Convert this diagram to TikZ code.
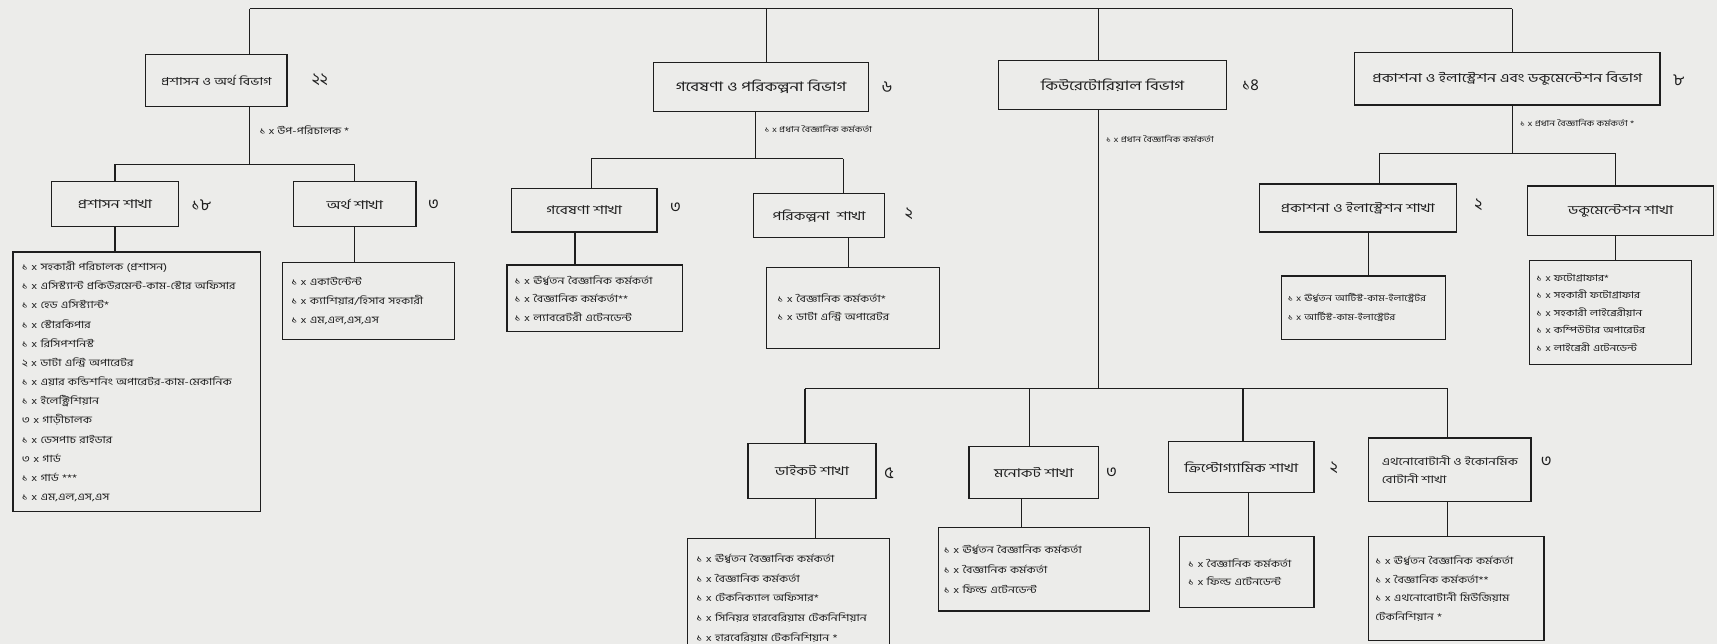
\documentclass[tikz,border=0pt]{standalone}
\usepackage{fontspec}
\setmainfont[Script=Bengali]{Hind Siliguri}
\newfontfamily\bnw[Script=Bengali,FakeStretch=1.3]{Hind Siliguri}
\newfontfamily\bnl[Script=Bengali,FakeStretch=1.25]{Hind Siliguri}
\definecolor{paper}{RGB}{236,236,234}
\definecolor{ink}{RGB}{30,30,30}
\tikzset{
  ln/.style={draw=ink, line width=1.2pt},
  bx/.style={draw=ink, line width=1.2pt, inner sep=0pt, align=center, text=ink, font=\bnw\fontsize{11}{14}\selectfont},
  bxb/.style={bx, font=\bnw\fontsize{12}{15}\selectfont},
  lst/.style args={#1/#2}{draw=ink, line width=1.2pt, inner sep=0pt, align=left, text=ink, font=\bnl\fontsize{#1}{#2}\selectfont},
  num/.style={text=ink, font=\fontsize{15}{18}\selectfont},
  lbl/.style={anchor=west, inner sep=0pt, text=ink, font=\bnl\fontsize{7.5}{9}\selectfont},
}
\begin{document}
\begin{tikzpicture}[x=1pt,y=-1pt]
\fill[paper] (0,0) rectangle (1568,588);
\useasboundingbox (0,0) rectangle (1568,588);

% ---------- level 1 ----------
\node[bxb, minimum width=129pt, minimum height=47pt, font=\bnw\fontsize{10}{13}\selectfont] (A) at (197.5,73.5) {প্রশাসন ও অর্থ বিভাগ};
\node[bxb, minimum width=196pt, minimum height=45pt] (B) at (695,79.5) {গবেষণা ও পরিকল্পনা বিভাগ};
\node[bxb, minimum width=208pt, minimum height=45pt] (C) at (1016,77.5) {কিউরেটোরিয়াল বিভাগ};
\node[bxb, minimum width=279pt, minimum height=48pt, font=\bnw\fontsize{11.2}{14}\selectfont] (D) at (1376.5,72) {প্রকাশনা ও ইলাস্ট্রেশন এবং ডকুমেন্টেশন বিভাগ};
\node[num] (nA) at (292,73) {২২};
\node[num] (nB) at (810,80) {৬};
\node[num] (nC) at (1142,78) {১৪};
\node[num] (nD) at (1533,73) {৮};

% ---------- A branch ----------
\node[bx, minimum width=116pt, minimum height=41pt] (PA) at (105,186.5) {প্রশাসন শাখা};
\node[bx, minimum width=112pt, minimum height=41pt] (PF) at (324,186.5) {অর্থ শাখা};
\node[num] (nPA) at (184,187) {১৮};
\node[num] (nPF) at (396,187) {৩};
\node[lst=9/17.5pt, minimum width=226pt, minimum height=237pt, text width=210pt] (LA) at (125,348.5) {%
১ x সহকারী পরিচালক (প্রশাসন)\\
১ x এসিস্ট্যান্ট প্রকিউরমেন্ট-কাম-স্টোর অফিসার\\
১ x হেড এসিস্ট্যান্ট*\\
১ x স্টোরকিপার\\
১ x রিসিপশনিস্ট\\
২ x ডাটা এন্ট্রি অপারেটর\\
১ x এয়ার কন্ডিশনিং অপারেটর-কাম-মেকানিক\\
১ x ইলেক্ট্রিশিয়ান\\
৩ x গাড়ীচালক\\
১ x ডেসপাচ রাইডার\\
৩ x গার্ড\\
১ x গার্ড ***\\
১ x এম,এল,এস,এস};
\node[lst=9/17pt, minimum width=157pt, minimum height=70pt, text width=141pt] (LF) at (336.5,275) {%
১ x একাউন্টেন্ট\\
১ x ক্যাশিয়ার/হিসাব সহকারী\\
১ x এম,এল,এস,এস};

% ---------- B branch ----------
\node[bx, minimum width=133pt, minimum height=40pt] (BR) at (533.5,192) {গবেষণা শাখা};
\node[bx, minimum width=120pt, minimum height=40pt] (BP) at (748,197) {পরিকল্পনা\ \ শাখা};
\node[num] (nBR) at (617,190) {৩};
\node[num] (nBP) at (830,195) {২};
\node[lst=9/17pt, minimum width=160pt, minimum height=61pt, text width=146pt] (LBR) at (543,272.5) {%
১ x ঊর্ধ্বতন বৈজ্ঞানিক কর্মকর্তা\\
১ x বৈজ্ঞানিক কর্মকর্তা**\\
১ x ল্যাবরেটরী এটেনডেন্ট};
\node[lst=9/17pt, minimum width=158pt, minimum height=74pt, text width=138pt] (LBP) at (779,281) {%
১ x বৈজ্ঞানিক কর্মকর্তা*\\
১ x ডাটা এন্ট্রি অপারেটর};

% ---------- C branch ----------
\node[bx, minimum width=117pt, minimum height=50pt] (CD) at (741.5,430) {ডাইকট শাখা};
\node[bx, minimum width=118pt, minimum height=47pt] (CM) at (944,431.5) {মনোকট শাখা};
\node[bx, minimum width=133pt, minimum height=47pt] (CC) at (1133.5,426.5) {ক্রিপ্টোগ্যামিক শাখা};
\node[bx, minimum width=148pt, minimum height=58pt, align=left, font=\bnw\fontsize{9.5}{16}\selectfont] (CE) at (1324,429) {এথনোবোটানী ও ইকোনমিক\\বোটানী শাখা};
\node[num] (nCD) at (812,432) {৫};
\node[num] (nCM) at (1015,432) {৩};
\node[num] (nCC) at (1218,427) {২};
\node[num] (nCE) at (1412,422) {৩};
\node[lst=9/18pt, minimum width=184pt, minimum height=108pt, text width=168pt] (LCD) at (720,546) {%
১ x ঊর্ধ্বতন বৈজ্ঞানিক কর্মকর্তা\\
১ x বৈজ্ঞানিক কর্মকর্তা\\
১ x টেকনিক্যাল অফিসার*\\
১ x সিনিয়র হারবেরিয়াম টেকনিশিয়ান\\
১ x হারবেরিয়াম টেকনিশিয়ান *};
\node[lst=9/18pt, minimum width=193pt, minimum height=76pt, text width=183pt] (LCM) at (953.5,520) {%
১ x ঊর্ধ্বতন বৈজ্ঞানিক কর্মকর্তা\\
১ x বৈজ্ঞানিক কর্মকর্তা\\
১ x ফিল্ড এটেনডেন্ট};
\node[lst=9/17pt, minimum width=123pt, minimum height=65pt, text width=107pt] (LCC) at (1138.5,522.5) {%
১ x বৈজ্ঞানিক কর্মকর্তা\\
১ x ফিল্ড এটেনডেন্ট};
\node[lst=9/17pt, minimum width=160pt, minimum height=95pt, text width=148pt] (LCE) at (1330,537.5) {%
১ x ঊর্ধ্বতন বৈজ্ঞানিক কর্মকর্তা\\
১ x বৈজ্ঞানিক কর্মকর্তা**\\
১ x এথনোবোটানী মিউজিয়াম\\
টেকনিশিয়ান *};

% ---------- D branch ----------
\node[bx, minimum width=180pt, minimum height=44pt] (DP) at (1240,190) {প্রকাশনা ও ইলাস্ট্রেশন শাখা};
\node[bx, minimum width=170pt, minimum height=45pt] (DD) at (1480,192.5) {ডকুমেন্টেশন শাখা};
\node[num] (nDP) at (1350,187) {২};
\node[lst=8/17pt, minimum width=150pt, minimum height=58pt, text width=138pt] (LDP) at (1245,281) {%
১ x ঊর্ধ্বতন আর্টিস্ট-কাম-ইলাস্ট্রেটর\\
১ x আর্টিস্ট-কাম-ইলাস্ট্রেটর};
\node[lst=8.5/16pt, minimum width=148pt, minimum height=95pt, text width=136pt] (LDD) at (1471,285.5) {%
১ x ফটোগ্রাফার*\\
১ x সহকারী ফটোগ্রাফার\\
১ x সহকারী লাইব্রেরীয়ান\\
১ x কম্পিউটার অপারেটর\\
১ x লাইব্রেরী এটেনডেন্ট};

% ---------- connector labels ----------
\node[lbl, font=\bnl\fontsize{9}{10}\selectfont] (tA) at (237,119) {১ x উপ-পরিচালক *};
\node[lbl] (tB) at (698,118) {১ x প্রধান বৈজ্ঞানিক কর্মকর্তা};
\node[lbl] (tC) at (1010,127) {১ x প্রধান বৈজ্ঞানিক কর্মকর্তা};
\node[lbl] (tD) at (1388,112) {১ x প্রধান বৈজ্ঞানিক কর্মকর্তা *};

% ---------- junction coordinates ----------
\coordinate (t0) at (228,8);
\coordinate (tBx) at (700,8);
\coordinate (tCx) at (1003,8);
\coordinate (t1) at (1381,8);
\coordinate (jA) at (228,150);
\coordinate (jAl) at (105,150);
\coordinate (jAr) at (324,150);
\coordinate (jB) at (690,145);
\coordinate (jBl) at (540,145);
\coordinate (jBr) at (770,145);
\coordinate (jC) at (1003,355);
\coordinate (jC1) at (735,355);
\coordinate (jC2) at (940,355);
\coordinate (jC3) at (1135,355);
\coordinate (jC4) at (1322,355);
\coordinate (jD) at (1381,140);
\coordinate (jDl) at (1260,140);
\coordinate (jDr) at (1475,140);

% ---------- connectors ----------
\draw[ln] (t0) -- (t1);
\draw[ln] (t0) -- (t0 |- A.north);
\draw[ln] (tBx) -- (tBx |- B.north);
\draw[ln] (tCx) -- (tCx |- C.north);
\draw[ln] (t1) -- (t1 |- D.north);

\draw[ln] (jA |- A.south) -- (jA);
\draw[ln] (jAl) -- (jAr);
\draw[ln] (jAl) -- (jAl |- PA.north);
\draw[ln] (jAr) -- (jAr |- PF.north);
\draw[ln] (PA.south) -- (LA.north -| PA.south);
\draw[ln] (PF.south) -- (LF.north -| PF.south);

\draw[ln] (jB |- B.south) -- (jB);
\draw[ln] (jBl) -- (jBr);
\draw[ln] (jBl) -- (jBl |- BR.north);
\draw[ln] (jBr) -- (jBr |- BP.north);
\coordinate (kBR) at (525,0);
\coordinate (kBP) at (775,0);
\draw[ln] (kBR |- BR.south) -- (kBR |- LBR.north);
\draw[ln] (kBP |- BP.south) -- (kBP |- LBP.north);

\draw[ln] (jC |- C.south) -- (jC);
\draw[ln] (jC1) -- (jC4);
\draw[ln] (jC1) -- (jC1 |- CD.north);
\draw[ln] (jC2) -- (jC2 |- CM.north);
\draw[ln] (jC3) -- (jC3 |- CC.north);
\draw[ln] (jC4) -- (jC4 |- CE.north);
\coordinate (kCD) at (745,0);
\coordinate (kCM) at (933,0);
\coordinate (kCC) at (1140,0);
\draw[ln] (kCD |- CD.south) -- (kCD |- LCD.north);
\draw[ln] (kCM |- CM.south) -- (kCM |- LCM.north);
\draw[ln] (kCC |- CC.south) -- (kCC |- LCC.north);
\draw[ln] (jC4 |- CE.south) -- (jC4 |- LCE.north);

\draw[ln] (jD |- D.south) -- (jD);
\draw[ln] (jDl) -- (jDr);
\draw[ln] (jDl) -- (jDl |- DP.north);
\draw[ln] (jDr) -- (jDr |- DD.north);
\coordinate (kDP) at (1250,0);
\draw[ln] (kDP |- DP.south) -- (kDP |- LDP.north);
\draw[ln] (jDr |- DD.south) -- (jDr |- LDD.north);
\end{tikzpicture}
\end{document}
